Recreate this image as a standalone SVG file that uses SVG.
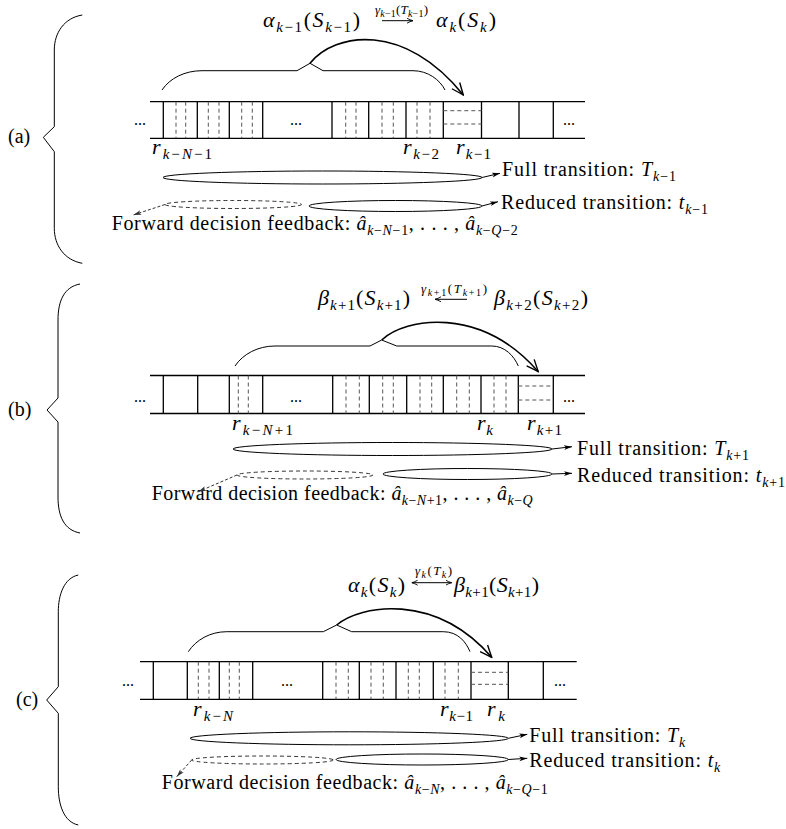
<svg xmlns="http://www.w3.org/2000/svg" width="786" height="829" viewBox="0 0 786 829">
<style>
.t{font-family:"Liberation Serif","Times New Roman",serif;font-size:20px;fill:#000}
.tm{font-size:22px}
.i{font-style:italic}
.u{font-style:normal}
.s{font-size:14px}
.s2{font-size:15px}
.ss{font-size:10px}
.sup{font-size:13px}
.dots{font-size:16px}
.ln{fill:none;stroke:#000;stroke-width:1}
.tp{fill:none;stroke:#000;stroke-width:1.3}
.dv{fill:none;stroke:#555;stroke-width:1;stroke-dasharray:4 3}
.br{fill:none;stroke:#000;stroke-width:1}
.arc{fill:none;stroke:#000;stroke-width:1.6;marker-end:url(#big)}
.el{fill:none;stroke:#000;stroke-width:1}
.eld{fill:none;stroke:#333;stroke-width:1;stroke-dasharray:4 3}
.ea{fill:none;stroke:#000;stroke-width:1;marker-end:url(#sm)}
.ead{fill:none;stroke:#333;stroke-width:1;stroke-dasharray:3 2;marker-end:url(#smd)}
</style>
<defs>
<marker id="big" viewBox="0 0 14 12" refX="13" refY="6" markerWidth="14" markerHeight="12" markerUnits="userSpaceOnUse" orient="auto"><path d="M1,1 Q8,4 13,6 Q8,8 1,11" fill="none" stroke="#000" stroke-width="1.4"/></marker>
<marker id="sm" viewBox="0 0 8 6" refX="8" refY="3" markerWidth="8" markerHeight="6" markerUnits="userSpaceOnUse" orient="auto"><path d="M0,0.6 L8,3 L0,5.4 L2,3 Z" fill="#000"/></marker>
<marker id="smd" viewBox="0 0 8 6" refX="8" refY="3" markerWidth="8" markerHeight="6" markerUnits="userSpaceOnUse" orient="auto"><path d="M0,0.6 L8,3 L0,5.4 L2,3 Z" fill="#333"/></marker>
<marker id="ta" viewBox="0 0 6 6" refX="6" refY="3" markerWidth="6" markerHeight="6" markerUnits="userSpaceOnUse" orient="auto-start-reverse"><path d="M0,0.5 Q3,2.3 6,3 Q3,3.7 0,5.5" fill="none" stroke="#000" stroke-width="0.9"/></marker>
</defs>

<!-- ================= Panel (a) ================= -->
<g id="a-brace">
<path class="br" d="M82.3,15 C64,18 54.3,33 54.3,50 L54.3,126.7 L43.3,137.3 L54.3,151.7 L54.3,228.3 C54.3,245 64,260 82.3,263.3"/>
<text class="t" x="8" y="143">(a)</text>
</g>
<g id="a-title">
<text class="t tm i" x="263" y="27" textLength="97">α<tspan class="s2" dy="5">k<tspan class="u">−1</tspan></tspan><tspan class="u" dy="-5">(</tspan>S<tspan class="s2" dy="5">k<tspan class="u">−1</tspan></tspan><tspan class="u" dy="-5">)</tspan></text>
<text class="t i sup" x="375" y="14" textLength="53">γ<tspan class="ss" dy="3">k<tspan class="u">−1</tspan></tspan><tspan class="u" dy="-3">(</tspan>T<tspan class="ss" dy="3">k<tspan class="u">−1</tspan></tspan><tspan class="u" dy="-3">)</tspan></text>
<path class="ln" d="M382,20.7H413" marker-end="url(#ta)"/>
<text class="t tm i" x="436" y="27" textLength="60">α<tspan class="s2" dy="5">k</tspan><tspan class="u" dy="-5">(</tspan>S<tspan class="s2" dy="5">k</tspan><tspan class="u" dy="-5">)</tspan></text>
</g>
<g id="a-tape">
<path class="tp" d="M150,101.7H585M150,138.3H585"/>
<path class="tp" d="M163.3,101.7V138.3M197.3,101.7V138.3M229.3,101.7V138.3M262.7,101.7V138.3M332,101.7V138.3M368.7,101.7V138.3M406,101.7V138.3M443.3,101.7V138.3M481.5,101.7V138.3M519,101.7V138.3M553.3,101.7V138.3"/>
<path class="dv" d="M176,101.7V138.3M185.7,101.7V138.3M208.3,101.7V138.3M219,101.7V138.3M241.7,101.7V138.3M252.3,101.7V138.3M345.7,101.7V138.3M356,101.7V138.3M382,101.7V138.3M393.3,101.7V138.3M417,101.7V138.3M430,101.7V138.3M443.3,110.7H481.5M443.3,124H481.5"/>
<text class="t dots" x="134" y="125">...</text>
<text class="t dots" x="290" y="125">...</text>
<text class="t dots" x="563" y="125">...</text>
</g>
<g id="a-labels">
<text class="t tm i" x="152" y="154" textLength="60">r<tspan class="s2" dy="5">k<tspan class="u">−</tspan>N<tspan class="u">−1</tspan></tspan></text>
<text class="t tm i" x="403" y="154" textLength="36">r<tspan class="s2" dy="5">k<tspan class="u">−2</tspan></tspan></text>
<text class="t tm i" x="456" y="154" textLength="35">r<tspan class="s2" dy="5">k<tspan class="u">−1</tspan></tspan></text>
</g>
<g id="a-brace-top">
<path class="br" d="M162,90 C170,78 185,70.7 202,70.7 L297,70.7 L310,63.3 L323,70.7 L413,70.7 C428,70.7 440,80 445,90"/>
</g>
<g id="a-transitions">
<ellipse class="el" cx="322.5" cy="177.5" rx="159.5" ry="6.5"/>
<ellipse class="el" cx="395.5" cy="206" rx="86.5" ry="5.5"/>
<ellipse class="eld" cx="233.3" cy="204.5" rx="68.3" ry="4"/>
<text class="t" x="502" y="176" textLength="174">Full transition: <tspan class="i">T</tspan><tspan class="s" dy="5"><tspan class="i">k</tspan>−1</tspan></text>
<text class="t" x="501" y="209" textLength="207">Reduced transition: <tspan class="i">t</tspan><tspan class="s" dy="5"><tspan class="i">k</tspan>−1</tspan></text>
<text class="t" x="111.7" y="230" textLength="406">Forward decision feedback: <tspan class="i">â</tspan><tspan class="s" dy="5"><tspan class="i">k</tspan>−<tspan class="i">N</tspan>−1</tspan><tspan dy="-5">, . . . , </tspan><tspan class="i">â</tspan><tspan class="s" dy="5"><tspan class="i">k</tspan>−<tspan class="i">Q</tspan>−2</tspan></text>
</g>

<!-- ================= Panel (b) ================= -->
<g id="b-brace">
<path class="br" d="M80,284 C64,287 58,301 58,320 L58,398 L47,410 L58,422 L58,497 C58,516 64,530 80,533"/>
<text class="t" x="8" y="416">(b)</text>
</g>
<g id="b-title">
<text class="t tm i" x="318" y="305" textLength="92">β<tspan class="s2" dy="5">k<tspan class="u">+1</tspan></tspan><tspan class="u" dy="-5">(</tspan>S<tspan class="s2" dy="5">k<tspan class="u">+1</tspan></tspan><tspan class="u" dy="-5">)</tspan></text>
<text class="t i sup" x="421" y="293" textLength="66">γ<tspan class="ss" dy="3">k<tspan class="u">+1</tspan></tspan><tspan class="u" dy="-3">(</tspan>T<tspan class="ss" dy="3">k<tspan class="u">+1</tspan></tspan><tspan class="u" dy="-3">)</tspan></text>
<path class="ln" d="M467,299.3H435" marker-end="url(#ta)"/>
<text class="t tm i" x="494" y="305" textLength="94">β<tspan class="s2" dy="5">k<tspan class="u">+2</tspan></tspan><tspan class="u" dy="-5">(</tspan>S<tspan class="s2" dy="5">k<tspan class="u">+2</tspan></tspan><tspan class="u" dy="-5">)</tspan></text>
</g>
<g id="b-tape">
<path class="tp" d="M150,375.5H585M150,413.5H585"/>
<path class="tp" d="M163.3,375.5V413.5M197.7,375.5V413.5M229.3,375.5V413.5M262.7,375.5V413.5M332.7,375.5V413.5M369.3,375.5V413.5M406.7,375.5V413.5M443.3,375.5V413.5M481,375.5V413.5M518.3,375.5V413.5M553.3,375.5V413.5"/>
<path class="dv" d="M238.3,375.5V413.5M248.3,375.5V413.5M346,375.5V413.5M359.3,375.5V413.5M382.7,375.5V413.5M393.3,375.5V413.5M420,375.5V413.5M431.7,375.5V413.5M456.7,375.5V413.5M469.3,375.5V413.5M494,375.5V413.5M506,375.5V413.5M518.3,386H553.3M518.3,400H553.3"/>
<text class="t dots" x="134" y="402">...</text>
<text class="t dots" x="290" y="402">...</text>
<text class="t dots" x="563" y="402">...</text>
</g>
<g id="b-labels">
<text class="t tm i" x="232" y="430" textLength="61">r<tspan class="s2" dy="5">k<tspan class="u">−</tspan>N<tspan class="u">+1</tspan></tspan></text>
<text class="t tm i" x="477" y="430" textLength="16">r<tspan class="s2" dy="5">k</tspan></text>
<text class="t tm i" x="527" y="430" textLength="35">r<tspan class="s2" dy="5">k<tspan class="u">+1</tspan></tspan></text>
</g>
<g id="b-brace-top">
<path class="br" d="M235,366 C243,354 258,346 275,346 L370,346 L381.7,340 L396.7,346 L491.7,346 C505,346 514,356 518.3,366"/>
</g>
<g id="b-transitions">
<ellipse class="el" cx="392.5" cy="449" rx="159.5" ry="6.5"/>
<ellipse class="el" cx="467.5" cy="474" rx="84.5" ry="5.5"/>
<ellipse class="eld" cx="305" cy="475" rx="68" ry="4"/>
<text class="t" x="577" y="455" textLength="172">Full transition: <tspan class="i">T</tspan><tspan class="s" dy="5"><tspan class="i">k</tspan>+1</tspan></text>
<text class="t" x="577" y="482" textLength="208">Reduced transition: <tspan class="i">t</tspan><tspan class="s" dy="5"><tspan class="i">k</tspan>+1</tspan></text>
<text class="t" x="151.7" y="500" textLength="381">Forward decision feedback: <tspan class="i">â</tspan><tspan class="s" dy="5"><tspan class="i">k</tspan>−<tspan class="i">N</tspan>+1</tspan><tspan dy="-5">, . . . , </tspan><tspan class="i">â</tspan><tspan class="s" dy="5"><tspan class="i">k</tspan>−<tspan class="i">Q</tspan></tspan></text>
</g>

<!-- ================= Panel (c) ================= -->
<g id="c-brace">
<path class="br" d="M78.3,575 C64,578 58.3,595 58.3,611.7 L58.3,686.7 L46.7,700 L58.3,713.3 L58.3,786.7 C58.3,805 64,822 78.3,825"/>
<text class="t" x="16" y="706">(c)</text>
</g>
<g id="c-title">
<text class="t tm i" x="348" y="591.7" textLength="57">α<tspan class="s2" dy="5">k</tspan><tspan class="u" dy="-5">(</tspan>S<tspan class="s2" dy="5">k</tspan><tspan class="u" dy="-5">)</tspan></text>
<text class="t i sup" x="415" y="575" textLength="37">γ<tspan class="ss" dy="3">k</tspan><tspan class="u" dy="-3">(</tspan>T<tspan class="ss" dy="3">k</tspan><tspan class="u" dy="-3">)</tspan></text>
<path class="ln" d="M411.7,582.7H451.7" marker-start="url(#ta)" marker-end="url(#ta)"/>
<text class="t tm i" x="454" y="591.7" textLength="85">β<tspan class="s2" dy="5">k<tspan class="u">+1</tspan></tspan><tspan class="u" dy="-5">(</tspan>S<tspan class="s2" dy="5">k<tspan class="u">+1</tspan></tspan><tspan class="u" dy="-5">)</tspan></text>
</g>
<g id="c-tape">
<path class="tp" d="M140,661.7H576.7M140,699.3H576.7"/>
<path class="tp" d="M153.3,661.7V699.3M187.3,661.7V699.3M219.3,661.7V699.3M252.7,661.7V699.3M322.7,661.7V699.3M359.3,661.7V699.3M396,661.7V699.3M433.3,661.7V699.3M471,661.7V699.3M508.3,661.7V699.3M543.3,661.7V699.3"/>
<path class="dv" d="M198.3,661.7V699.3M209,661.7V699.3M229.3,661.7V699.3M239.3,661.7V699.3M336,661.7V699.3M348.3,661.7V699.3M371,661.7V699.3M383.3,661.7V699.3M408.3,661.7V699.3M419.3,661.7V699.3M445,661.7V699.3M458.3,661.7V699.3M471,672.3H508.3M471,684.3H508.3"/>
<text class="t dots" x="122" y="686">...</text>
<text class="t dots" x="281" y="686">...</text>
<text class="t dots" x="554" y="686">...</text>
</g>
<g id="c-labels">
<text class="t tm i" x="193" y="716" textLength="40">r<tspan class="s2" dy="5">k<tspan class="u">−</tspan>N</tspan></text>
<text class="t tm i" x="440" y="716" textLength="33">r<tspan class="s2" dy="5">k<tspan class="u">−1</tspan></tspan></text>
<text class="t tm i" x="487" y="716" textLength="18">r<tspan class="s2" dy="5">k</tspan></text>
</g>
<g id="c-brace-top">
<path class="br" d="M188.3,651.7 C196,640 210,631.7 226.7,631.7 L323.3,631.7 L336.7,625 L351.7,631.7 L443.3,631.7 C458,631.7 466,642 470,651.7"/>
</g>
<g id="c-transitions">
<ellipse class="el" cx="349.2" cy="738.3" rx="159.1" ry="6.5"/>
<ellipse class="el" cx="422.2" cy="759.5" rx="86.1" ry="5.5"/>
<ellipse class="eld" cx="262.5" cy="760" rx="70.8" ry="4"/>
<text class="t" x="529.3" y="741.7" textLength="156">Full transition: <tspan class="i">T</tspan><tspan class="s i" dy="5">k</tspan></text>
<text class="t" x="529.3" y="766.7" textLength="191">Reduced transition: <tspan class="i">t</tspan><tspan class="s i" dy="5">k</tspan></text>
<text class="t" x="161.7" y="789.3" textLength="386">Forward decision feedback: <tspan class="i">â</tspan><tspan class="s" dy="5"><tspan class="i">k</tspan>−<tspan class="i">N</tspan></tspan><tspan dy="-5">, . . . , </tspan><tspan class="i">â</tspan><tspan class="s" dy="5"><tspan class="i">k</tspan>−<tspan class="i">Q</tspan>−1</tspan></text>
</g>

<!-- ================= Connectors ================= -->
<g id="connectors">
<path class="arc" d="M310,63.3 C335,32 405,22 463.3,95"/>
<path class="ea" d="M482,177.5 L500,173.3"/>
<path class="ea" d="M482,206 L498,201.7"/>
<path class="ead" d="M165,204.5 L133.3,215"/>
<path class="arc" d="M381.7,340 C405,318 480,305 538.3,371.7"/>
<path class="ea" d="M552,449 L572,446.7"/>
<path class="ea" d="M552,474 L572,473.3"/>
<path class="ead" d="M237,475 L198.3,491.7"/>
<path class="arc" d="M336.7,625 C360,605 435,592 491.7,657.3"/>
<path class="ea" d="M508.3,738.3 L527.3,734.3"/>
<path class="ea" d="M508.3,759.5 L527.3,758.3"/>
<path class="ead" d="M191.7,760 L176.7,776.7"/>
</g>
</svg>
